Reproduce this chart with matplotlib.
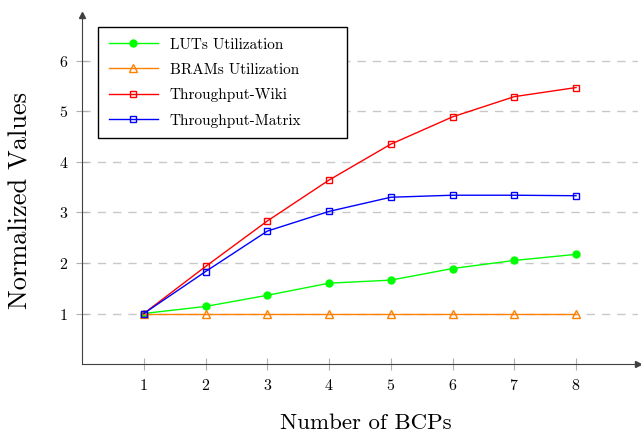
import numpy as np
import matplotlib
matplotlib.use('Agg')
import matplotlib.pyplot as plt

plt.rcParams['font.family'] = 'cmr10'
plt.rcParams['mathtext.fontset'] = 'cm'
plt.rcParams['axes.formatter.use_mathtext'] = True

bcps = [1, 2, 3, 4, 5, 6, 7, 8]
luts = [1.0, 1.14, 1.36, 1.60, 1.66, 1.89, 2.05, 2.17]
brams = [1.0, 1.0, 1.0, 1.0, 1.0, 1.0, 1.0, 1.0]
tp_wiki = [1.0, 1.93, 2.83, 3.64, 4.35, 4.89, 5.29, 5.47]
tp_matrix = [1.0, 1.83, 2.63, 3.02, 3.30, 3.34, 3.34, 3.33]

fig = plt.figure(figsize=(6.41, 4.36), dpi=100)
ax = fig.add_axes([0.128, 0.165, 0.867, 0.800])

ax.plot(bcps, luts, color='#00ff00', lw=1, marker='o', ms=5, label='LUTs Utilization')
ax.plot(bcps, brams, color='#ff8000', lw=1, marker='^', ms=6, mfc='none', label='BRAMs Utilization')
ax.plot(bcps, tp_wiki, color='#ff0000', lw=1, marker='s', ms=5, mfc='none', label='Throughput-Wiki')
ax.plot(bcps, tp_matrix, color='#0000ff', lw=1, marker='s', ms=5, mfc='none', label='Throughput-Matrix')

ax.set_xlim(0, 9)
ax.set_ylim(0, 6.9)
ax.set_xticks(bcps)
ax.set_yticks([1, 2, 3, 4, 5, 6])
ax.tick_params(direction='inout', length=8, color='#b0b0b0', labelsize=11.5, pad=6)
ax.yaxis.grid(True, linestyle=(0, (6, 5)), color='#c8c8c8', lw=1)
ax.set_axisbelow(True)

for s in ['top', 'right']:
    ax.spines[s].set_visible(False)
for s in ['left', 'bottom']:
    ax.spines[s].set_color('#404040')
ax.plot(1, 0, '>', color='#404040', ms=5, transform=ax.transAxes, clip_on=False)
ax.plot(0, 1, '^', color='#404040', ms=5, transform=ax.transAxes, clip_on=False)

ax.set_xlabel('Number of BCPs', fontsize=16.5)
ax.set_ylabel('Normalized Values', fontsize=19)
ax.xaxis.set_label_coords(0.511, -0.142)
ax.yaxis.set_label_coords(-0.09, 0.47)

leg = ax.legend(loc='upper left', bbox_to_anchor=(0.0288, 0.656, 0.448, 0.31),
                mode='expand', borderaxespad=0, fontsize=11, labelspacing=0.75,
                borderpad=0.7, handlelength=3.2, fancybox=False,
                edgecolor='black', framealpha=1)
leg.get_frame().set_linewidth(1)

plt.savefig('out.png', dpi=100)
